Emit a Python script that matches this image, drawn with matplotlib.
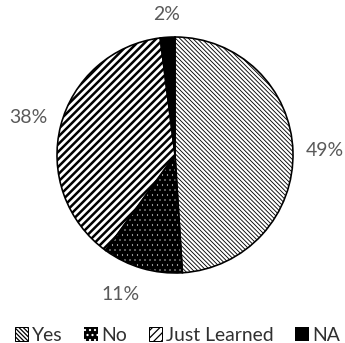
import numpy as np
import matplotlib
matplotlib.use("Agg")
import matplotlib.pyplot as plt

# Survey answers and their shares (percent)
categories = ["Yes", "No", "Just Learned", "NA"]
shares = [49, 11, 38, 2]
pct_labels = ["49%", "11%", "38%", "2%"]

plt.rcParams["font.family"] = ["Lato", "DejaVu Sans"]

DPI = 90
W, H = 345, 343
fig = plt.figure(figsize=(W / DPI, H / DPI), dpi=DPI)

# square axes holding a unit-radius pie
R = 118
cx, cy = 175, 155
ax = fig.add_axes([(cx - R) / W, (H - cy - R) / H, 2 * R / W, 2 * R / H])

faces = ["white", "black", "white", "black"]
hatch_cols = ["black", "white", "black", "black"]
hatches = ["\\" * 7, "...", "////", None]
hatch_lw = [0.7, 0.2, 2.0, 1.0]

wedges, _ = ax.pie(shares, startangle=90, counterclock=False, radius=1,
                   colors=faces, wedgeprops=dict(linewidth=0))
for w, h, hc, lw in zip(wedges, hatches, hatch_cols, hatch_lw):
    w.set_edgecolor(hc)
    if h:
        w.set_hatch(h)
    try:
        w.set_hatch_linewidth(lw)
    except AttributeError:
        pass

# black outlines drawn over the hatched fills
ax.pie(shares, startangle=90, counterclock=False, radius=1,
       wedgeprops=dict(fill=False, edgecolor="black", linewidth=1.3))

# percentage labels outside each wedge (small angular nudges avoid crowding)
label_dist = [1.27, 1.27, 1.28, 1.19]
label_shift = [0, -5, 0, 0]
for w, txt, d, s in zip(wedges, pct_labels, label_dist, label_shift):
    ang = np.deg2rad((w.theta1 + w.theta2) / 2 + s)
    ax.text(d * np.cos(ang), d * np.sin(ang), txt, ha="center", va="center",
            fontsize=15.5, color="#595959")

ax.set_xlim(-1, 1)
ax.set_ylim(-1, 1)
ax.set_aspect("auto")
ax.axis("off")

leg = fig.legend(wedges, categories, loc="center", bbox_to_anchor=(0.515, 0.022),
                 ncol=4, frameon=False, fontsize=15.5, handlelength=0.7,
                 handleheight=0.7, handletextpad=0.2, columnspacing=1.1,
                 labelcolor="#303030")
for hd, h in zip(leg.legend_handles, hatches):
    if h and h != "...":
        hd.set_edgecolor("black")
        hd.set_linewidth(0.8)

fig.savefig("out.png", dpi=DPI)
